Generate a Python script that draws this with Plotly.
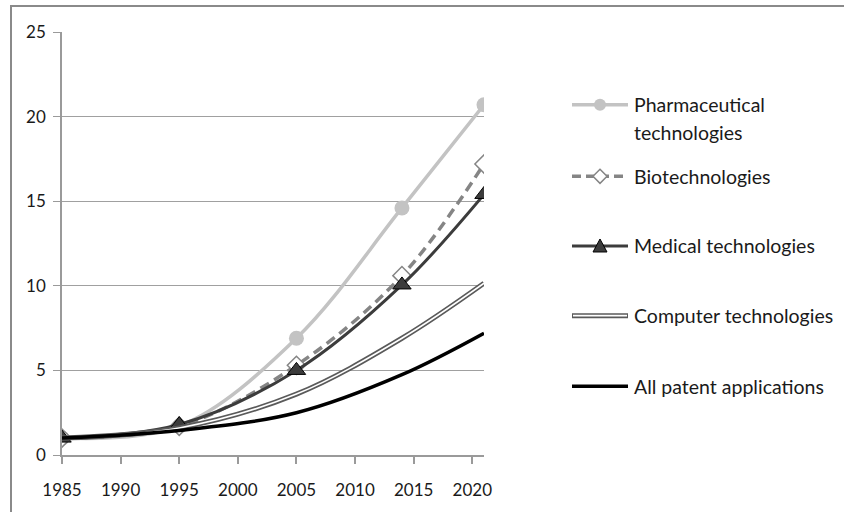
import plotly.graph_objects as go

# ---- data ----
years = [1985, 1995, 2005, 2014, 2021]
pharma = [1.0, 1.7, 6.9, 14.6, 20.7]
biotech = [1.0, 1.7, 5.3, 10.6, 17.2]
medical = [1.0, 1.8, 5.0, 10.05, 15.4]
computer = [1.0, 1.6, 3.6, 6.9, 10.15]
all_patents = [1.0, 1.45, 2.5, 4.75, 7.2]

series_names = ["Pharmaceutical technologies", "Biotechnologies", "Medical technologies",
                "Computer technologies", "All patent applications"]
x_ticks = [1985, 1990, 1995, 2000, 2005, 2010, 2015, 2020]
y_ticks = [0, 5, 10, 15, 20, 25]

FONT = "Lato"
W, H = 844, 512
L, R, T, B = 62, 484, 32, 457  # plot-area pixel box


def px(x):
    return (x - L) / (R - L)


def py(y):
    return (B - y) / (B - T)


fig = go.Figure()
spl = dict(shape="spline", smoothing=1.0)

fig.add_trace(go.Scatter(x=years, y=pharma, mode="lines+markers", name=series_names[0],
                         line=dict(color="#c3c3c3", width=3.5, **spl),
                         marker=dict(symbol="circle", size=15, color="#c3c3c3")))
fig.add_trace(go.Scatter(x=years, y=biotech, mode="lines+markers", name=series_names[1],
                         line=dict(color="#858585", width=3.5, dash="10px,6px", **spl),
                         marker=dict(symbol="diamond", size=14, color="white",
                                     line=dict(color="#858585", width=1.5))))
fig.add_trace(go.Scatter(x=years, y=medical, mode="lines+markers", name=series_names[2],
                         line=dict(color="#3c3c3c", width=3, **spl),
                         marker=dict(symbol="triangle-up", size=16, color="#3c3c3c",
                                     line=dict(color="#000000", width=1))))
fig.add_trace(go.Scatter(x=years, y=computer, mode="lines", name=series_names[3],
                         line=dict(color="#5a5a5a", width=5, **spl)))
fig.add_trace(go.Scatter(x=years, y=computer, mode="lines", name=series_names[3],
                         line=dict(color="white", width=1.6, **spl)))
fig.add_trace(go.Scatter(x=years, y=all_patents, mode="lines", name=series_names[4],
                         line=dict(color="#000000", width=3.5, **spl)))

shapes = []
# outer frame (top and left edges visible in the reference)
shapes.append(dict(type="line", xref="paper", yref="paper", x0=px(10), x1=px(W + 5),
                   y0=py(6), y1=py(6), line=dict(color="#8a8a8a", width=2)))
shapes.append(dict(type="line", xref="paper", yref="paper", x0=px(11), x1=px(11),
                   y0=py(5), y1=py(H + 5), line=dict(color="#8a8a8a", width=2)))

# ---- manual legend ----
lx0, lx1, lxm, tx = 572, 628, 600, 632
leg_y = [105, 177, 247, 317, 388]

# pharma
shapes.append(dict(type="line", xref="paper", yref="paper", x0=px(lx0), x1=px(lx1),
                   y0=py(leg_y[0]), y1=py(leg_y[0]), line=dict(color="#c3c3c3", width=3.5)))
shapes.append(dict(type="circle", xref="paper", yref="paper", xsizemode="pixel", ysizemode="pixel",
                   xanchor=px(lxm), yanchor=py(leg_y[0]), x0=-6, x1=6, y0=-6, y1=6,
                   fillcolor="#c3c3c3", line=dict(color="#c3c3c3", width=0)))
# bio
shapes.append(dict(type="line", xref="paper", yref="paper", x0=px(lx0), x1=px(lx1),
                   y0=py(leg_y[1]), y1=py(leg_y[1]), line=dict(color="#858585", width=3.5, dash="9px,5px")))
shapes.append(dict(type="path", xref="paper", yref="paper", xsizemode="pixel", ysizemode="pixel",
                   xanchor=px(lxm), yanchor=py(leg_y[1]), path="M 0,7 L 7,0 L 0,-7 L -7,0 Z",
                   fillcolor="white", line=dict(color="#858585", width=1.5)))
# medical
shapes.append(dict(type="line", xref="paper", yref="paper", x0=px(lx0), x1=px(lx1),
                   y0=py(leg_y[2]), y1=py(leg_y[2]), line=dict(color="#3c3c3c", width=3)))
shapes.append(dict(type="path", xref="paper", yref="paper", xsizemode="pixel", ysizemode="pixel",
                   xanchor=px(lxm), yanchor=py(leg_y[2]), path="M -7,-6 L 7,-6 L 0,7 Z",
                   fillcolor="#3c3c3c", line=dict(color="#000000", width=1)))
# computer (double line)
shapes.append(dict(type="line", xref="paper", yref="paper", x0=px(lx0), x1=px(lx1),
                   y0=py(leg_y[3]), y1=py(leg_y[3]), line=dict(color="#5a5a5a", width=5)))
shapes.append(dict(type="line", xref="paper", yref="paper", x0=px(lx0 + 1), x1=px(lx1 - 1),
                   y0=py(leg_y[3]), y1=py(leg_y[3]), line=dict(color="white", width=1.6)))
# all
shapes.append(dict(type="line", xref="paper", yref="paper", x0=px(lx0), x1=px(lx1),
                   y0=py(leg_y[4]), y1=py(leg_y[4]), line=dict(color="#000000", width=3.5)))

annotations = []
leg_texts = [("Pharmaceutical", 105), ("technologies", 133), (series_names[1], 177),
             (series_names[2], 247), (series_names[3], 317), (series_names[4], 388)]
for txt, yc in leg_texts:
    annotations.append(dict(text=txt, xref="paper", yref="paper", x=px(tx), y=py(yc),
                            xanchor="left", yanchor="middle", showarrow=False,
                            font=dict(family=FONT, size=19.5, color="#1a1a1a")))

fig.update_layout(
    width=W, height=H,
    margin=dict(l=L, r=W - R, t=T, b=H - B, pad=0),
    paper_bgcolor="white", plot_bgcolor="white",
    showlegend=False,
    shapes=shapes, annotations=annotations,
    font=dict(family=FONT, size=17, color="#1a1a1a"),
    xaxis=dict(range=[1985, 2021], tickmode="array", tickvals=x_ticks,
               ticktext=[str(v) for v in x_ticks], showgrid=False, zeroline=False,
               showline=True, linecolor="#9a9a9a", linewidth=1.5,
               ticks="outside", ticklen=7, tickcolor="#9a9a9a", tickwidth=1.5,
               ticklabelstandoff=12,
               tickfont=dict(family=FONT, size=17, color="#1a1a1a")),
    yaxis=dict(range=[0, 25], tickmode="array", tickvals=y_ticks,
               showgrid=True, gridcolor="#a0a0a0", gridwidth=1.2, zeroline=False,
               showline=True, linecolor="#9a9a9a", linewidth=1.5,
               ticks="outside", ticklen=7, tickcolor="#9a9a9a", tickwidth=1.2,
               ticklabelstandoff=4,
               tickfont=dict(family=FONT, size=17, color="#1a1a1a")),
)

fig.write_html("out.html", config={"displayModeBar": False},
               post_script="document.body.style.margin='0px';")
